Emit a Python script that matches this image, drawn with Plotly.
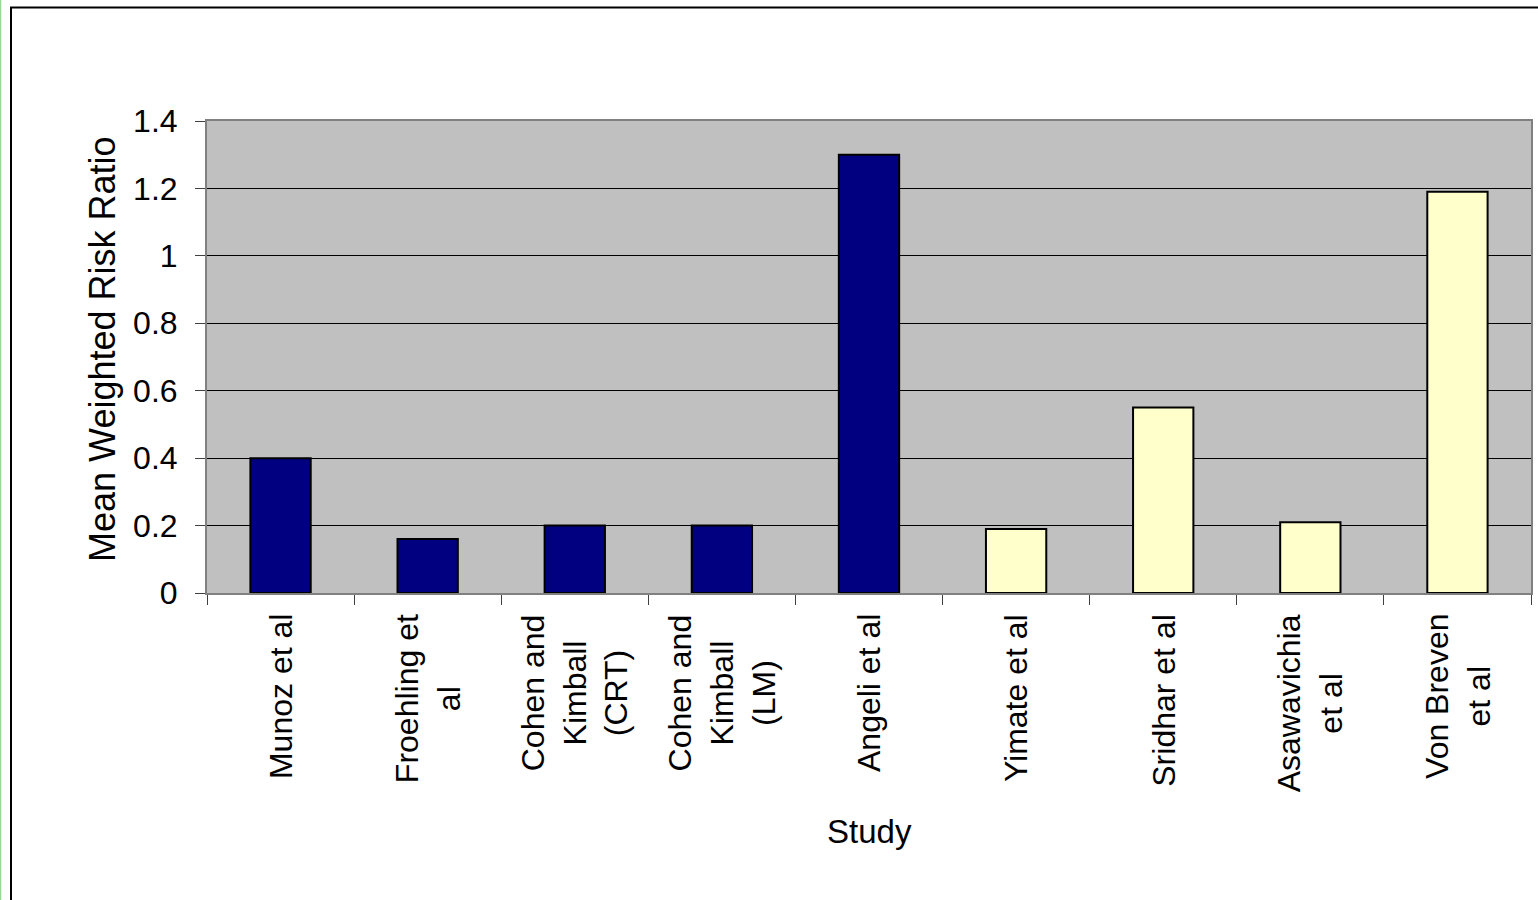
import plotly.graph_objects as go

studies = ["Munoz et al", "Froehling et<br>al", "Cohen and<br>Kimball<br>(CRT)",
           "Cohen and<br>Kimball<br>(LM)", "Angeli et al", "Yimate et al",
           "Sridhar et al", "Asawavichia<br>et al", "Von Breven<br>et al"]
risk_ratio = [0.40, 0.16, 0.20, 0.20, 1.30, 0.19, 0.55, 0.21, 1.19]
bar_colors = ["#000080"] * 5 + ["#FFFFCC"] * 4
y_ticks = [0, 0.2, 0.4, 0.6, 0.8, 1.0, 1.2, 1.4]
y_tick_text = ["0", "0.2", "0.4", "0.6", "0.8", "1", "1.2", "1.4"]

FONT = "Liberation Sans, Arial, sans-serif"
W, H = 1538, 900
L, R, T, B = 207, 7, 121, 307
PW, PH = W - L - R, H - T - B

def px_x(p):
    return (p - L) / PW

def px_y(p):
    return (H - B - p) / PH

cats = list(range(len(studies)))

fig = go.Figure()
fig.add_trace(go.Bar(
    x=cats, y=risk_ratio, width=0.41,
    marker=dict(color=bar_colors, line=dict(color="black", width=2)),
    showlegend=False,
))

annotations = []
for c, s in zip(cats, studies):
    annotations.append(dict(
        x=c, y=0, xref="x", yref="paper", text=s, showarrow=False,
        textangle=-90, xanchor="center", yanchor="top", yshift=-19,
        align="center", font=dict(family=FONT, size=32, color="black"),
    ))
annotations.append(dict(
    x=0, y=0.5, xref="paper", yref="paper", text="Mean Weighted Risk Ratio",
    showarrow=False, textangle=-90, xanchor="center", yanchor="middle",
    xshift=-105, yshift=8, font=dict(family=FONT, size=36, color="black"),
))
annotations.append(dict(
    x=0.5, y=0, xref="paper", yref="paper", text="Study",
    showarrow=False, xanchor="center", yanchor="middle",
    yshift=-238, font=dict(family=FONT, size=33, color="black"),
))

shapes = [
    dict(type="line", xref="paper", yref="paper",
         x0=px_x(0.5), x1=px_x(0.5), y0=px_y(-5), y1=px_y(905),
         line=dict(color="#99D699", width=1.5)),
    dict(type="rect", xref="paper", yref="paper",
         x0=px_x(11), x1=px_x(1560), y0=px_y(7.5), y1=px_y(920),
         line=dict(color="black", width=2)),
]

fig.update_layout(
    width=W, height=H,
    margin=dict(l=L, r=R, t=T, b=B, autoexpand=False),
    paper_bgcolor="white", plot_bgcolor="#C0C0C0",
    bargap=0.59,
    annotations=annotations, shapes=shapes,
    font=dict(family=FONT, color="black"),
)
fig.update_xaxes(
    type="linear", range=[-0.5, len(studies) - 0.5],
    tickmode="array", tickvals=[i - 0.5 for i in range(len(studies) + 1)],
    showticklabels=False, ticks="outside", ticklen=10, tickcolor="#404040",
    tickwidth=1, showgrid=False, zeroline=False,
    showline=True, linecolor="#808080", linewidth=2, mirror=True,
)
fig.update_yaxes(
    range=[0, 1.4], tickmode="array", tickvals=y_ticks, ticktext=y_tick_text,
    ticks="outside", ticklen=10, tickcolor="#404040", tickwidth=1,
    ticklabelstandoff=11,
    tickfont=dict(family=FONT, size=32, color="black"),
    showgrid=True, gridcolor="black", gridwidth=1, zeroline=False,
    showline=True, linecolor="#808080", linewidth=2, mirror=True,
)

fig.write_html("out.html")
